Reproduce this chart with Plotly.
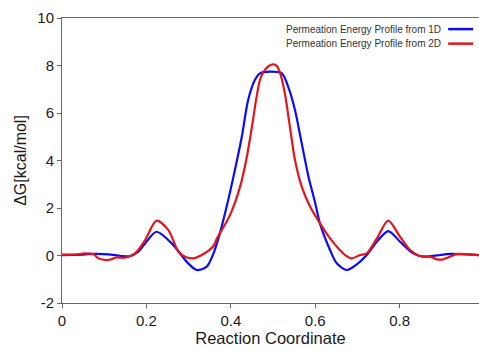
import plotly.graph_objects as go

# 1D profile
x_1d = [0.0, 0.05, 0.08, 0.11, 0.14, 0.16, 0.18, 0.197, 0.224, 0.26, 0.299, 0.319, 0.343,
        0.359, 0.374, 0.39, 0.406, 0.426, 0.441, 0.457, 0.469, 0.493, 0.521, 0.536, 0.552,
        0.568, 0.584, 0.6, 0.611, 0.635, 0.651, 0.675, 0.7, 0.722, 0.746, 0.773, 0.801,
        0.832, 0.856, 0.896, 0.911, 0.943, 0.988]
g_1d = [0.02, 0.04, 0.07, 0.05, -0.02, -0.03, 0.15, 0.51, 1.0, 0.51, -0.33, -0.61, -0.47,
        0.09, 0.93, 2.05, 3.3, 5.0, 6.55, 7.39, 7.67, 7.74, 7.67, 7.1, 6.13,
        4.72, 3.32, 2.2, 1.36, 0.23, -0.33, -0.61, -0.35, 0.02, 0.58, 1.03, 0.58,
        0.09, -0.05, 0.02, 0.06, 0.06, 0.02]

# 2D profile
x_2d = [0.0, 0.03, 0.055, 0.075, 0.086, 0.11, 0.13, 0.149, 0.173, 0.197, 0.224, 0.252,
        0.276, 0.292, 0.31, 0.331, 0.359, 0.367, 0.374, 0.398, 0.422, 0.438, 0.45, 0.461,
        0.469, 0.478, 0.49, 0.501, 0.509, 0.517, 0.528, 0.54, 0.552, 0.568, 0.588, 0.611,
        0.635, 0.655, 0.671, 0.686, 0.706, 0.722, 0.746, 0.773, 0.801, 0.825, 0.848,
        0.872, 0.888, 0.904, 0.915, 0.935, 0.959, 0.988]
g_2d = [0.04, 0.04, 0.09, 0.05, -0.12, -0.19, -0.08, -0.09, 0.09, 0.65, 1.47, 1.07,
        0.16, -0.05, -0.12, 0.02, 0.40, 0.72, 0.93, 1.7, 2.9, 4.16, 5.42, 6.68,
        7.39, 7.75, 7.98, 8.05, 7.98, 7.67, 6.83, 5.42, 4.02, 2.9, 2.05, 1.36,
        0.72, 0.30, 0.02, -0.12, 0.02, 0.09, 0.72, 1.47, 0.79, 0.23, -0.02,
        -0.05, -0.16, -0.16, -0.08, 0.06, 0.05, 0.02]

names = ["Permeation Energy Profile from 1D", "Permeation Energy Profile from 2D"]
colors = ["#0a0aff", "#e8141c"]

x_ticks = [0, 0.2, 0.4, 0.6, 0.8]
x_tick_labels = ["0", "0.2", "0.4", "0.6", "0.8"]
y_ticks = [-2, 0, 2, 4, 6, 8, 10]
y_tick_labels = ["-2", "0", "2", "4", "6", "8", "10"]

fig = go.Figure()
for xs, ys, nm, c in [(x_1d, g_1d, names[0], colors[0]), (x_2d, g_2d, names[1], colors[1])]:
    fig.add_trace(go.Scatter(x=xs, y=ys, mode="lines", name=nm,
                             line=dict(color=c, width=2.2, shape="spline", smoothing=0.8)))

FONT = "Liberation Sans, Arial, Helvetica, sans-serif"
axis_col = "#666666"
txt_col = "#1a1a1a"

fig.update_layout(
    width=479, height=350,
    margin=dict(l=62, r=0, t=18, b=47),
    paper_bgcolor="white", plot_bgcolor="white",
    showlegend=False,
    font=dict(family=FONT, color=txt_col),
    xaxis=dict(range=[0, 0.988], tickvals=x_ticks, ticktext=x_tick_labels,
               showgrid=False, zeroline=False, showline=True, linecolor=axis_col,
               linewidth=1, mirror=True, ticks="outside", ticklen=4, tickcolor=axis_col,
               tickfont=dict(size=15, family=FONT, color=txt_col),
               title=dict(text="Reaction Coordinate", font=dict(size=16.5, family=FONT, color=txt_col),
                          standoff=4)),
    yaxis=dict(range=[-2, 10], tickvals=y_ticks, ticktext=y_tick_labels,
               showgrid=False, zeroline=False, showline=True, linecolor=axis_col,
               linewidth=1, ticks="outside", ticklen=4, tickcolor=axis_col,
               tickfont=dict(size=15, family=FONT, color=txt_col),
               title=dict(text="ΔG[kcal/mol]", font=dict(size=16, family=FONT, color=txt_col),
                          standoff=6)),
)

# custom legend (text on left, line sample on right)
leg_y = [0.961, 0.910]
for i in range(2):
    fig.add_annotation(xref="paper", yref="paper", x=0.914, y=leg_y[i], text=names[i],
                       showarrow=False, xanchor="right", yanchor="middle",
                       font=dict(size=10, family=FONT, color="#333333"))
    fig.add_shape(type="line", xref="paper", yref="paper", x0=0.926, x1=0.986,
                  y0=leg_y[i], y1=leg_y[i], line=dict(color=colors[i], width=2.5))

fig.write_html("out.html")
